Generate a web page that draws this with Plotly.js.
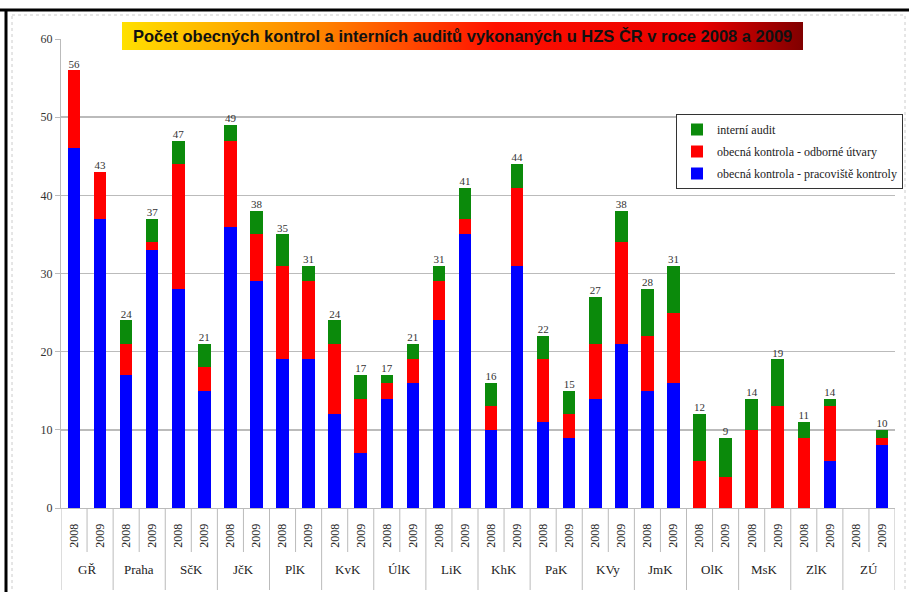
<!DOCTYPE html>
<html><head><meta charset="utf-8">
<script src="https://cdn.plot.ly/plotly-3.0.1.min.js"></script>
<style>html,body{margin:0;padding:0;background:#fff}#chart{width:909px;height:592px}</style>
</head><body><div id="chart"></div>
<script>
const regions = ["GŘ","Praha","SčK","JčK","PlK","KvK","ÚlK","LiK","KhK","PaK","KVy","JmK","OlK","MsK","ZlK","ZÚ"];
const years = ["2008","2009"];
// values per region: [2008, 2009]
const pracoviste = [46,37, 17,33, 28,15, 36,29, 19,19, 12,7, 14,16, 24,35, 10,31, 11,9, 14,21, 15,16, 0,0, 0,0, 0,6, 0,8];
const odborne    = [10,6,  4,1,   16,3,  11,6,  12,10, 9,7,  2,3,   5,2,   3,10,  8,3,  7,13,  7,9,   6,4, 10,13, 9,7, 0,1];
const audit      = [0,0,   3,3,   3,3,   2,3,   4,2,   3,3,  1,2,   2,4,   3,3,   3,3,  6,4,   6,6,   6,5, 4,6,   2,1, 0,1];
const seriesNames = ["obecná kontrola - pracoviště kontroly","obecná kontrola - odborné útvary","interní audit"];

// bar positions: one slot per (region, year)
const xpos = [], yearText = [];
regions.forEach((r,ri) => years.forEach((y,yi) => { xpos.push(ri*years.length + yi); yearText.push(y); }));
const totals = pracoviste.map((v,i) => v + odborne[i] + audit[i]);

const colors = ["#0000FF","#FF0000","#0B8A0B"];
const data = [pracoviste, odborne, audit].map((vals,k) => ({
  type:"bar", x:xpos, y:vals, name:seriesNames[k], legendgroup:"g"+k, legendrank:3-k,
  marker:{color:colors[k], line:{width:0}}, hoverinfo:"y+name"
}));
data.push({
  type:"scatter", mode:"text", x:xpos, y:totals,
  text: totals.map(t => t ? String(t) : ""),
  textposition:"top center", showlegend:false, hoverinfo:"skip",
  textfont:{family:"Liberation Serif, serif", size:11, color:"#333"},
  cliponaxis:false
});

const grad = '<svg xmlns="http://www.w3.org/2000/svg" width="100" height="10" preserveAspectRatio="none"><defs><linearGradient id="g" x1="0" x2="1" y1="0" y2="0"><stop offset="0" stop-color="#FFE000"/><stop offset="0.3" stop-color="#FF8000"/><stop offset="0.55" stop-color="#FF1000"/><stop offset="0.85" stop-color="#E80000"/><stop offset="1" stop-color="#800000"/></linearGradient></defs><rect width="100" height="10" fill="url(#g)"/></svg>';
const gradSrc = "data:image/svg+xml;charset=utf-8," + encodeURIComponent(grad);

const L = 61, R = 895, T = 39, B = 508;
const W = R - L, H = B - T;
const px = x => (x - L) / W;
const py = y => (B - y) / H;

const nY = years.length;
const regionAnn = regions.map((r,ri) => ({
  text:r, xref:"x", yref:"paper", x:ri*nY + (nY-1)/2, y:py(569), xanchor:"center", yanchor:"middle",
  showarrow:false, font:{family:"Liberation Serif, serif", size:13, color:"#222"}
}));
const dividers = [];
for (let ri = 0; ri <= regions.length; ri++) {
  dividers.push({type:"line", xref:"x", yref:"paper", x0:ri*nY-0.5, x1:ri*nY-0.5, y0:0, y1:py(590),
                 line:{color:"#bbb", width:1}});
  if (ri < regions.length) {
    for (let yi = 1; yi < nY; yi++) {
      dividers.push({type:"line", xref:"x", yref:"paper", x0:ri*nY+yi-0.5, x1:ri*nY+yi-0.5, y0:0, y1:py(552),
                     line:{color:"#bbb", width:1}});
    }
  }
}

const layout = {
  width:909, height:592,
  margin:{l:L, r:909-R, t:T, b:592-B, autoexpand:false},
  paper_bgcolor:"#fff", plot_bgcolor:"#fff",
  barmode:"stack", bargap:0.52,
  font:{family:"Liberation Serif, serif", size:12, color:"#222"},
  showlegend:true,
  legend:{x:px(903), y:py(114), xanchor:"right", yanchor:"top", traceorder:"grouped",
          bordercolor:"#333", borderwidth:1, bgcolor:"#fff",
          font:{family:"Liberation Serif, serif", size:12, color:"#222"},
          itemwidth:30, tracegroupgap:3},
  xaxis:{type:"linear", range:[-0.5, xpos.length-0.5], showgrid:false, zeroline:false,
         showline:true, linecolor:"#bbb",
         tickmode:"array", tickvals:xpos, ticktext:yearText,
         tickangle:-90, automargin:false,
         tickfont:{family:"Liberation Serif, serif", size:12, color:"#222"},
         ticks:"outside", ticklen:10, tickcolor:"rgba(0,0,0,0)", fixedrange:true},
  yaxis:{range:[0,60], dtick:10, showgrid:true, gridcolor:"#bbb", gridwidth:1.5,
         zeroline:false, showline:true, linecolor:"#bbb", automargin:false,
         tickfont:{family:"Liberation Serif, serif", size:12, color:"#333"},
         ticks:"outside", ticklen:5, tickcolor:"#bbb", fixedrange:true},
  images:[{source:gradSrc, xref:"paper", yref:"paper", x:px(122), y:py(22),
           sizex:(803-122)/W, sizey:28/H, sizing:"stretch", xanchor:"left", yanchor:"top", layer:"above"}],
  annotations:[{text:"<b>Počet obecných kontrol a interních auditů vykonaných u HZS ČR v roce 2008 a 2009</b>",
                xref:"paper", yref:"paper", x:px(462), y:py(36), xanchor:"center", yanchor:"middle",
                showarrow:false, font:{family:"Liberation Sans, sans-serif", size:16.5, color:"#111"}}]
                .concat(regionAnn),
  shapes:[
    {type:"line", xref:"paper", yref:"paper", x0:px(0), x1:px(909), y0:py(10), y1:py(10), line:{color:"#000", width:3}},
    {type:"line", xref:"paper", yref:"paper", x0:px(6), x1:px(6), y0:py(10), y1:py(592), line:{color:"#000", width:3}},
    {type:"rect", xref:"paper", yref:"paper", x0:px(12), x1:px(905), y0:py(15), y1:py(600), line:{color:"#ccc", width:1, dash:"dot"}}
  ].concat(dividers)
};
Plotly.newPlot("chart", data, layout, {displayModeBar:false, staticPlot:true});
</script></body></html>
